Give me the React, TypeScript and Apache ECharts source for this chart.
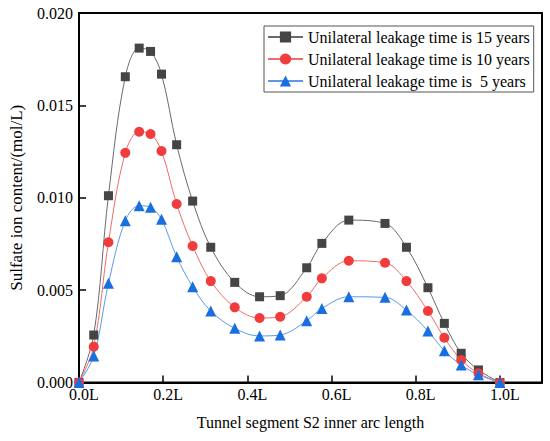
import React, { useEffect, useRef } from "react";
import * as echarts from "echarts";

const positions = [0, 0.035, 0.07, 0.11, 0.143, 0.17, 0.196, 0.232, 0.27, 0.313, 0.37, 0.429, 0.478, 0.541, 0.577, 0.641, 0.727, 0.778, 0.829, 0.868, 0.908, 0.949, 1.0];
const years15 = [0, 0.00257, 0.01011, 0.01655, 0.0181, 0.01792, 0.01669, 0.01287, 0.00982, 0.00732, 0.00542, 0.00464, 0.0047, 0.00621, 0.00753, 0.00879, 0.00861, 0.00732, 0.00513, 0.0032, 0.00158, 0.00068, 0];
const years10 = [0, 0.00194, 0.00759, 0.01243, 0.01357, 0.01345, 0.01253, 0.00966, 0.00739, 0.00549, 0.00407, 0.00349, 0.00356, 0.00464, 0.00564, 0.00659, 0.00648, 0.00549, 0.00387, 0.00242, 0.00122, 0.0005, 0];
const years5 = [0, 0.00143, 0.00537, 0.00876, 0.00957, 0.00948, 0.00883, 0.00681, 0.00518, 0.00387, 0.00293, 0.00252, 0.00257, 0.00334, 0.00401, 0.00464, 0.00461, 0.00392, 0.00279, 0.00172, 0.00095, 0.00042, 0];
const seriesNames = [
  "Unilateral leakage time is 15 years",
  "Unilateral leakage time is 10 years",
  "Unilateral leakage time is  5 years",
];
const xAxisTitle = "Tunnel segment S2 inner arc length";
const yAxisTitle = "Sulfate ion content/(mol/L)";

const FONT = "'Liberation Serif', 'Times New Roman', serif";

export default function App() {
  const ref = useRef<HTMLDivElement>(null);
  useEffect(() => {
    if (!ref.current) return;
    const chart = echarts.init(ref.current, undefined, { renderer: "svg" });
    const pair = (vals: number[]) => positions.map((x, i) => [x, vals[i]]);
    const mk = (name: string, vals: number[], symbol: string, size: number, markerColor: string, lineColor: string) => ({
      name,
      type: "line",
      data: pair(vals),
      smooth: 0.35,
      symbol,
      symbolSize: size,
      showAllSymbol: true,
      itemStyle: { color: markerColor, borderWidth: 0 },
      lineStyle: { color: lineColor, width: 1 },
      z: 3,
    });
    chart.setOption({
      animation: false,
      backgroundColor: "#ffffff",
      textStyle: { fontFamily: FONT, color: "#000" },
      grid: {
        left: 77,
        right: 8,
        top: 13,
        bottom: 58.5,
        show: true,
        borderColor: "#000",
        borderWidth: 2,
        backgroundColor: "transparent",
      },
      legend: {
        orient: "vertical",
        left: 264,
        top: 26,
        padding: [3, 4, 3, 3],
        itemGap: 6,
        itemWidth: 35,
        itemHeight: 14,
        borderColor: "#555",
        borderWidth: 1,
        backgroundColor: "#fff",
        textStyle: { fontFamily: FONT, fontSize: 16, color: "#000" },
        data: seriesNames,
      },
      xAxis: {
        type: "value",
        min: 0,
        max: 1.1,
        interval: 0.2,
        name: xAxisTitle,
        nameLocation: "middle",
        nameGap: 32,
        nameTextStyle: { fontFamily: FONT, fontSize: 16, color: "#000" },
        axisLine: { show: true, lineStyle: { color: "#000", width: 2 } },
        axisTick: { show: true, inside: true, length: 7, lineStyle: { color: "#000", width: 1.5 } },
        axisLabel: {
          fontFamily: FONT,
          fontSize: 16,
          lineHeight: 12,
          color: "#000",
          margin: 6,
          padding: [0, 0, 0, 10],
          showMaxLabel: false,
          formatter: (v: number) => (v > 1.05 ? "" : v.toFixed(1) + "L"),
        },
        splitLine: { show: false },
      },
      yAxis: {
        type: "value",
        min: 0,
        max: 0.02,
        interval: 0.005,
        name: yAxisTitle,
        nameLocation: "middle",
        nameGap: 54,
        nameTextStyle: { fontFamily: FONT, fontSize: 17, color: "#000" },
        axisLine: { show: true, lineStyle: { color: "#000", width: 2 } },
        axisTick: { show: true, inside: true, length: 7, lineStyle: { color: "#000", width: 1.5 } },
        axisLabel: {
          fontFamily: FONT,
          fontSize: 16,
          lineHeight: 10,
          color: "#000",
          margin: 6,
          formatter: (v: number) => v.toFixed(3),
        },
        splitLine: { show: false },
      },
      series: [
        mk(seriesNames[0], years15, "rect", 9, "#454545", "#6a6a6a"),
        mk(seriesNames[1], years10, "circle", 10, "#f03c3c", "#f36a6a"),
        mk(seriesNames[2], years5, "triangle", 11, "#1a6fe0", "#5a9be8"),
      ],
    });
    return () => chart.dispose();
  }, []);
  return (
    <div
      ref={ref}
      style={{ position: "fixed", left: 0, top: 0, width: 550, height: 441, background: "#fff" }}
    />
  );
}
